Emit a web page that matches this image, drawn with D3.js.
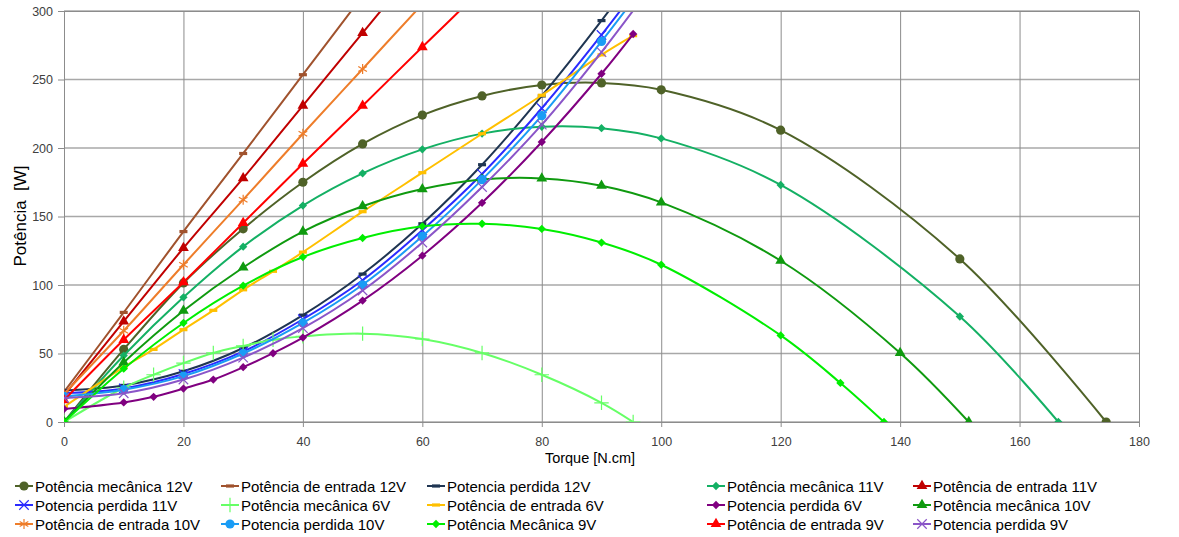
<!DOCTYPE html>
<html>
<head>
<meta charset="utf-8">
<script src="https://cdn.jsdelivr.net/npm/d3@7"></script>
<style>
  body { margin: 0; background: #fff; }
  svg { font-family: "Liberation Sans", Arial, sans-serif; }
</style>
</head>
<body>
<svg id="chart" width="1179" height="537"></svg>
<script>
// torque values (N.cm) per group of series
const xMec12 = [0, 10, 20, 30, 40, 50, 60, 70, 80, 90, 100, 120, 150, 174.5];
const xMec11 = [0, 10, 20, 30, 40, 50, 60, 70, 80, 90, 100, 120, 150, 166.5];
const xMec10 = [0, 10, 20, 30, 40, 50, 60, 70, 80, 90, 100, 120, 140, 151.5];
const xMec9 = [0, 10, 20, 30, 40, 50, 60, 70, 80, 90, 100, 120, 130, 137.3];
const x6V = [0, 10, 15, 20, 25, 30, 35, 40, 50, 60, 70, 80, 90, 95.3];
const xPerdida = [0, 10, 20, 30, 40, 50, 60, 70, 80, 90, 100];
const xEntrada12 = [0, 10, 20, 30, 40, 50];
const xEntrada = [0, 10, 20, 30, 40, 50, 60, 70];

// power values (W)
const mec12V = [0, 53, 101.5, 141, 175, 203, 224, 238, 246, 247.5, 242.5, 213, 119, 0];
const entrada12V = [22, 80, 139, 196, 253.5, 311];
const perdida12V = [23, 26.7, 37, 54, 78, 108, 144.7, 187.8, 238, 293, 352];
const mec11V = [0, 48.5, 91, 128, 158, 181.5, 199, 210.5, 215.5, 214.5, 207, 173, 77, 0];
const entrada11V = [19.5, 73.4, 127, 178, 231, 284, 337];
const perdida11V = [21, 24.5, 35, 51.5, 75, 103.5, 140, 181, 229, 282.5, 340];
const mec6V = [0, 25, 34.5, 43, 50.4, 55.5, 60, 62.5, 64.5, 60.6, 50.4, 34.5, 14, 0];
const entrada6V = [11, 40, 53, 67.4, 81.5, 96.5, 110, 124, 153.5, 182, 210.4, 238.5, 268, 282];
const perdida6V = [9.5, 14.3, 18.4, 24.4, 31, 40, 50.2, 61.6, 88.6, 121.4, 160, 204.4, 254.2, 283.2];
const mec10V = [0, 43.5, 81.2, 112.8, 139, 157.5, 170, 177, 177.8, 172.5, 160.3, 117.7, 50.4, 0];
const entrada10V = [20.5, 66.6, 114.8, 162.3, 210.4, 257.7, 305];
const perdida10V = [18.7, 23.6, 33.5, 50, 72.3, 100.2, 135.5, 176.9, 223.6, 277.8, 335];
const mec9V = [0, 38.9, 72.3, 99.5, 120.4, 134.3, 142.8, 144.7, 140.9, 131, 114.8, 63.2, 28.5, 0];
const entrada9V = [16, 60, 102, 145.3, 188.5, 230.9, 273.7, 316];
const perdida9V = [17.5, 21, 31, 47, 68.5, 96, 131, 171.5, 217, 270, 328];

const xTicks = [0, 20, 40, 60, 80, 100, 120, 140, 160, 180];
const yTicks = [0, 50, 100, 150, 200, 250, 300];

const series = [
  { name: "Potência mecânica 12V", xs: xMec12, ys: mec12V, color: "#4f6228", marker: "circle" },
  { name: "Potência de entrada 12V", xs: xEntrada12, ys: entrada12V, color: "#a0522d", marker: "bar" },
  { name: "Potencia perdida 12V", xs: xPerdida, ys: perdida12V, color: "#1f3552", marker: "bar" },
  { name: "Potência mecânica 11V", xs: xMec11, ys: mec11V, color: "#14b064", marker: "diamond" },
  { name: "Potência de entrada 11V", xs: xEntrada, ys: entrada11V, color: "#c00000", marker: "triangle" },
  { name: "Potencia perdida 11V", xs: xPerdida, ys: perdida11V, color: "#2b2bff", marker: "times" },
  { name: "Potência mecânica 6V", xs: x6V, ys: mec6V, color: "#66ff66", marker: "plus" },
  { name: "Potência de entrada 6V", xs: x6V, ys: entrada6V, color: "#ffc000", marker: "bar" },
  { name: "Potencia perdida 6V", xs: x6V, ys: perdida6V, color: "#800080", marker: "diamond" },
  { name: "Potência mecânica 10V", xs: xMec10, ys: mec10V, color: "#0f9a0f", marker: "triangle" },
  { name: "Potência de entrada 10V", xs: xEntrada, ys: entrada10V, color: "#ee7d2a", marker: "asterisk" },
  { name: "Potencia perdida 10V", xs: xPerdida, ys: perdida10V, color: "#1a9cf5", marker: "circle" },
  { name: "Potência Mecânica 9V", xs: xMec9, ys: mec9V, color: "#00ee00", marker: "diamond" },
  { name: "Potência de entrada 9V", xs: xEntrada, ys: entrada9V, color: "#ff0000", marker: "triangle" },
  { name: "Potencia perdida 9V", xs: xPerdida, ys: perdida9V, color: "#8a55c8", marker: "times" }
];

const margin = { top: 11, right: 40, bottom: 115, left: 64 };
const width = 1179 - margin.left - margin.right;
const height = 537 - margin.top - margin.bottom;

const svg = d3.select("#chart");
const g = svg.append("g").attr("transform", `translate(${margin.left},${margin.top})`);

const x = d3.scaleLinear().domain([0, 180]).range([0, width]);
const y = d3.scaleLinear().domain([0, 300]).range([height, 0]);

// gridlines
g.append("g").selectAll("line").data(yTicks).join("line")
  .attr("x1", 0).attr("x2", width)
  .attr("y1", d => y(d)).attr("y2", d => y(d))
  .attr("stroke", "#a8a8a8").attr("stroke-width", 1.5);
g.append("g").selectAll("line").data(xTicks).join("line")
  .attr("x1", d => x(d) + 0.5).attr("x2", d => x(d) + 0.5)
  .attr("y1", 0).attr("y2", height)
  .attr("stroke", "#8c8c8c").attr("stroke-width", 1);

// axes
const xAxis = g.append("g")
  .attr("transform", `translate(0,${height})`)
  .call(d3.axisBottom(x).tickValues(xTicks).tickSize(5).tickPadding(10));
const yAxis = g.append("g")
  .call(d3.axisLeft(y).tickValues(yTicks).tickSize(6).tickPadding(5));
[xAxis, yAxis].forEach(a => {
  a.select(".domain").attr("stroke", "#8c8c8c");
  a.selectAll(".tick line").attr("stroke", "#8c8c8c");
  a.selectAll("text").attr("fill", "#404040").style("font-size", "12.5px")
    .style("font-family", "'Liberation Sans', Arial, sans-serif");
});

svg.append("clipPath").attr("id", "plot-clip")
  .append("rect").attr("x", 0).attr("y", 0).attr("width", width).attr("height", height);

const line = d3.line()
  .x(d => x(d[0]))
  .y(d => y(d[1]))
  .curve(d3.curveCatmullRom.alpha(0.5));

function drawMarker(sel, type, color) {
  if (type === "bar") {
    sel.append("rect").attr("x", -4).attr("y", -1.6).attr("width", 8).attr("height", 3.2).attr("fill", color);
  } else if (type === "circle") {
    sel.append("circle").attr("r", 4.6).attr("fill", color);
  } else if (type === "diamond") {
    sel.append("path").attr("d", d3.symbol(d3.symbolDiamond2, 44)()).attr("fill", color);
  } else if (type === "triangle") {
    sel.append("path").attr("d", d3.symbol(d3.symbolTriangle, 50)()).attr("fill", color);
  } else if (type === "times") {
    sel.append("path").attr("d", d3.symbol(d3.symbolTimes, 60)())
      .attr("fill", "none").attr("stroke", color).attr("stroke-width", 1.2);
  } else if (type === "plus") {
    sel.append("path").attr("d", d3.symbol(d3.symbolPlus, 70)())
      .attr("fill", "none").attr("stroke", color).attr("stroke-width", 1.2);
  } else if (type === "asterisk") {
    sel.append("path").attr("d", d3.symbol(d3.symbolAsterisk, 70)())
      .attr("fill", "none").attr("stroke", color).attr("stroke-width", 1.2);
  }
}

const plot = g.append("g").attr("clip-path", "url(#plot-clip)");

series.forEach(s => {
  const pts = s.xs.map((t, i) => [t, s.ys[i]]);
  const sg = plot.append("g");
  sg.append("path").datum(pts)
    .attr("d", line)
    .attr("fill", "none")
    .attr("stroke", s.color)
    .attr("stroke-width", 2);
  sg.selectAll("g.m").data(pts.filter(p => p[1] <= 300)).join("g")
    .attr("class", "m")
    .attr("transform", p => `translate(${x(p[0])},${y(p[1])})`)
    .each(function () { drawMarker(d3.select(this), s.marker, s.color); });
});

// plot frame top/right
g.append("line").attr("x1", 0).attr("x2", width).attr("y1", 0.5).attr("y2", 0.5).attr("stroke", "#8c8c8c");
g.append("line").attr("x1", width + 0.5).attr("x2", width + 0.5).attr("y1", 0).attr("y2", height).attr("stroke", "#8c8c8c");

// axis titles
svg.append("text")
  .attr("x", 590).attr("y", 463)
  .attr("text-anchor", "middle")
  .style("font-size", "14.5px")
  .attr("fill", "#000")
  .text("Torque [N.cm]");
svg.append("text")
  .attr("transform", "translate(26,216) rotate(-90)")
  .attr("text-anchor", "middle")
  .style("font-size", "17px")
  .style("white-space", "pre")
  .attr("fill", "#000")
  .text("Potência  [W]");

// legend
const colX = [15, 221, 427, 707, 913];
const rowY = [486, 505, 524];
const legend = svg.append("g");
series.forEach((s, i) => {
  const lx = colX[i % 5], ly = rowY[Math.floor(i / 5)];
  const item = legend.append("g").attr("transform", `translate(${lx},${ly})`);
  item.append("line").attr("x1", 0).attr("x2", 18).attr("y1", 0).attr("y2", 0)
    .attr("stroke", s.color).attr("stroke-width", 2);
  drawMarker(item.append("g").attr("transform", "translate(9,0)"), s.marker, s.color);
  item.append("text").attr("x", 20).attr("y", 5.5)
    .style("font-size", "15px").attr("fill", "#000").text(s.name);
});
</script>
</body>
</html>
